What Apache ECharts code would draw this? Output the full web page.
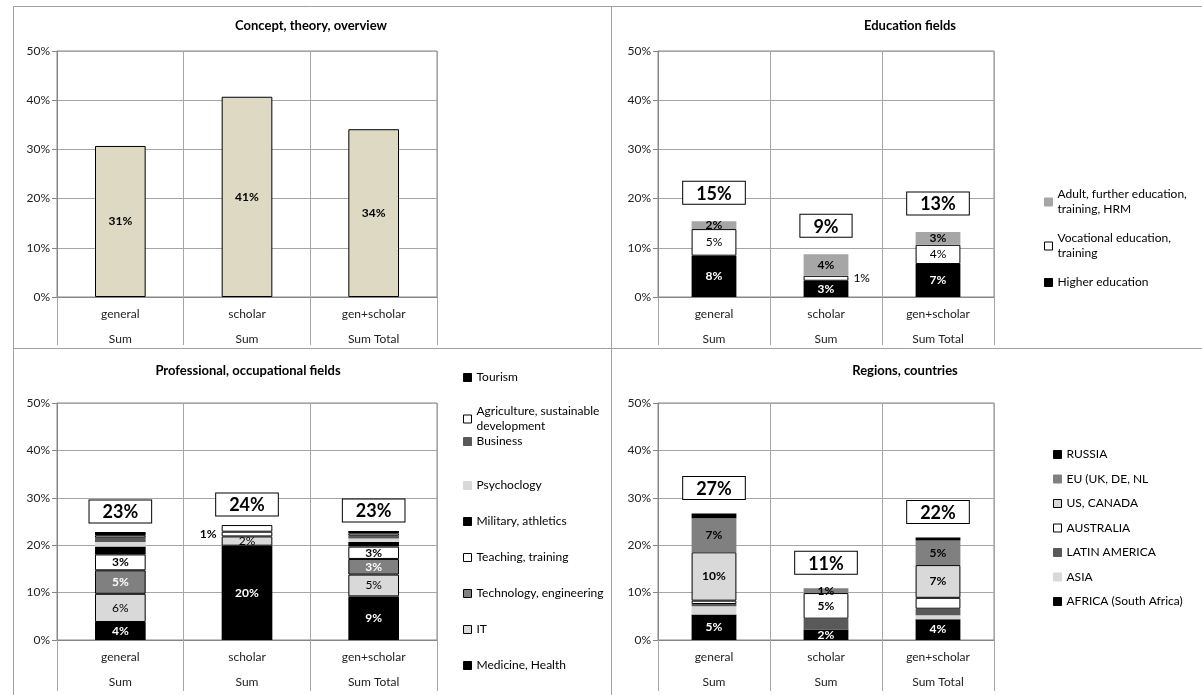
<!DOCTYPE html>
<html><head><meta charset="utf-8">
<script src="https://cdn.jsdelivr.net/npm/echarts@6/dist/echarts.min.js"></script>
<style>html,body{margin:0;padding:0;background:#fff}#c{width:1202px;height:695px}</style>
</head><body><div id="c"></div><script>
// ---------- data (values in percent) ----------
const categories = ['general', 'scholar', 'gen+scholar'];
const subLabels = ['Sum', 'Sum', 'Sum Total'];
const yTickMax = 50;
const yTickStep = 10;

const conceptValues = [30.7, 40.7, 34.1];

const eduHigher = [8.4, 3.3, 6.7];
const eduVocational = [5.4, 1.0, 3.9];
const eduAdult = [1.6, 4.4, 2.6];

const profMedicine = [3.8, 19.9, 9.2];
const profIT = [5.95, 1.95, 4.6];
const profTech = [4.95, 0, 3.3];
const profTeaching = [3.35, 1.0, 2.6];
const profMilitary = [1.65, 0, 1.0];
const profPsychology = [1.0, 0, 0.7];
const profBusiness = [0.9, 0, 0.6];
const profAgriculture = [0.5, 1.4, 0.5];
const profTourism = [0.7, 0, 0.5];

const regAfrica = [5.4, 2.2, 4.4];
const regAsia = [1.7, 0, 0.8];
const regLatin = [0.5, 2.3, 1.4];
const regAustralia = [0.7, 5.4, 2.3];
const regUS = [10.2, 0, 6.9];
const regEU = [7.2, 1.0, 5.2];
const regRussia = [1.0, 0, 0.6];

// ---------- styling helpers ----------
const FONT = 'Lato, "Open Sans", sans-serif';
const GRIDC = '#a6a6a6';
const pct = v => Math.round(v) + '%';

const wrap = {
  'Adult, further education, training, HRM': 'Adult, further education,\ntraining, HRM',
  'Vocational education, training': 'Vocational education,\ntraining',
  'Agriculture, sustainable development': 'Agriculture, sustainable\ndevelopment'
};

function stackSeries(gi, name, vals, color, o) {
  o = o || {};
  return {
    type: 'bar', name: name, xAxisIndex: gi, yAxisIndex: gi, stack: 's' + gi, barWidth: '40%',
    itemStyle: { color: color, borderColor: o.border ? '#000' : color, borderWidth: o.border ? 1 : 0 },
    emphasis: { disabled: true },
    data: vals.map((v, i) => {
      const item = { value: v > 0 ? v : '-' };
      if (o.labels && o.labels[i] && v > 0) {
        item.label = { show: true };
        if (o.labelPos && o.labelPos[i]) item.label.position = o.labelPos[i];
      }
      return item;
    }),
    label: { show: false, position: 'inside', formatter: p => pct(p.value), fontFamily: FONT, fontSize: 12,
      color: o.labelColor || '#000', fontWeight: o.bold ? 'bold' : 'normal' }
  };
}

function totalSeries(gi, arrays, dist) {
  const totals = categories.map((_, i) => arrays.reduce((s, a) => s + a[i], 0));
  return {
    type: 'scatter', xAxisIndex: gi, yAxisIndex: gi, data: totals, symbolSize: 1, silent: true, z: 10,
    itemStyle: { color: 'rgba(0,0,0,0)', opacity: 1 },
    emphasis: { disabled: true },
    label: { show: true, position: 'top', distance: dist, formatter: p => pct(p.value),
      fontFamily: FONT, fontSize: 18, fontWeight: 'bold', color: '#000', backgroundColor: '#fff',
      borderColor: '#000', borderWidth: 1, padding: [3, 13, 1, 13], opacity: 1 }
  };
}

const grids = [
  { left: 57, top: 51, width: 380, height: 246 },
  { left: 658, top: 51, width: 336, height: 246 },
  { left: 57, top: 403, width: 380, height: 241 },
  { left: 658, top: 403, width: 336, height: 241 }
].map(g => Object.assign(g, { show: true, borderColor: '#868686', borderWidth: 1 }));

const xAxes = grids.map((g, i) => ({
  type: 'category', gridIndex: i, data: categories,
  axisLine: { lineStyle: { color: '#868686' } },
  axisTick: { show: true, interval: 0, length: i < 2 ? 48 : 51, lineStyle: { color: GRIDC } },
  splitLine: { show: true, interval: 0, lineStyle: { color: GRIDC } },
  axisLabel: { interval: 0, margin: 5, fontFamily: FONT, fontSize: 12, color: '#222', lineHeight: 25,
    formatter: (v, idx) => v + '\n' + subLabels[idx] }
}));

const yAxes = grids.map((g, i) => ({
  type: 'value', gridIndex: i, min: 0, max: yTickMax, interval: yTickStep,
  axisLine: { show: true, lineStyle: { color: '#868686' } },
  axisTick: { show: true, length: 5, lineStyle: { color: '#868686' } },
  splitLine: { show: true, lineStyle: { color: GRIDC } },
  axisLabel: { margin: 7, fontFamily: FONT, fontSize: 12, color: '#222', formatter: '{value}%' }
}));

const series = [
  {
    type: 'bar', name: 'Concept', xAxisIndex: 0, yAxisIndex: 0, barWidth: '40%', data: conceptValues,
    itemStyle: { color: '#ddd9c3', borderColor: '#000', borderWidth: 1 }, emphasis: { disabled: true },
    label: { show: true, position: 'inside', formatter: p => pct(p.value), fontFamily: FONT, fontSize: 12, fontWeight: 'bold', color: '#000' }
  },
  stackSeries(1, 'Higher education', eduHigher, '#000', { labels: [1, 1, 1], labelColor: '#fff', bold: true }),
  stackSeries(1, 'Vocational education, training', eduVocational, '#fff', { border: true, labels: [1, 1, 1], labelPos: [null, 'right', null] }),
  stackSeries(1, 'Adult, further education, training, HRM', eduAdult, '#a6a6a6', { labels: [1, 1, 1], bold: true }),
  totalSeries(1, [eduHigher, eduVocational, eduAdult], 17),
  stackSeries(2, 'Medicine, Health', profMedicine, '#000', { labels: [1, 1, 1], labelColor: '#fff', bold: true }),
  stackSeries(2, 'IT', profIT, '#d9d9d9', { border: true, labels: [1, 1, 1] }),
  stackSeries(2, 'Technology, engineering', profTech, '#808080', { border: true, labels: [1, 1, 1], labelColor: '#fff', bold: true }),
  stackSeries(2, 'Teaching, training', profTeaching, '#fff', { border: true, labels: [1, 1, 1], bold: true, labelPos: [null, 'left', null] }),
  stackSeries(2, 'Military, athletics', profMilitary, '#000'),
  stackSeries(2, 'Psychoclogy', profPsychology, '#d9d9d9'),
  stackSeries(2, 'Business', profBusiness, '#595959'),
  stackSeries(2, 'Agriculture, sustainable development', profAgriculture, '#fff', { border: true }),
  stackSeries(2, 'Tourism', profTourism, '#000'),
  totalSeries(2, [profMedicine, profIT, profTech, profTeaching, profMilitary, profPsychology, profBusiness, profAgriculture, profTourism], 9),
  stackSeries(3, 'AFRICA (South Africa)', regAfrica, '#000', { labels: [1, 1, 1], labelColor: '#fff', bold: true }),
  stackSeries(3, 'ASIA', regAsia, '#d9d9d9'),
  stackSeries(3, 'LATIN AMERICA', regLatin, '#595959'),
  stackSeries(3, 'AUSTRALIA', regAustralia, '#fff', { border: true, labels: [0, 1, 0], bold: true }),
  stackSeries(3, 'US, CANADA', regUS, '#d9d9d9', { border: true, labels: [1, 1, 1], bold: true }),
  stackSeries(3, 'EU (UK, DE, NL', regEU, '#808080', { labels: [1, 1, 1], bold: true }),
  stackSeries(3, 'RUSSIA', regRussia, '#000'),
  totalSeries(3, [regAfrica, regAsia, regLatin, regAustralia, regUS, regEU, regRussia], 14)
];

function legend(names, left, top, gap) {
  return {
    data: names, orient: 'vertical', left: left, top: top, itemGap: gap, itemWidth: 8, itemHeight: 8,
    icon: 'rect', selectedMode: false, padding: 0,
    itemStyle: { borderWidth: 1 },
    formatter: n => wrap[n] || n,
    textStyle: { fontFamily: FONT, fontSize: 12, color: '#000', lineHeight: 15 }
  };
}

const legends = [
  legend(['Adult, further education, training, HRM', 'Vocational education, training', 'Higher education'], 1044, 187, 14),
  legend(['Tourism', 'Agriculture, sustainable development'], 463, 370, 19),
  legend(['Business'], 463, 434, 0),
  legend(['Psychoclogy', 'Military, athletics', 'Teaching, training', 'Technology, engineering', 'IT', 'Medicine, Health'], 463, 478, 21),
  legend(['RUSSIA', 'EU (UK, DE, NL', 'US, CANADA', 'AUSTRALIA', 'LATIN AMERICA', 'ASIA', 'AFRICA (South Africa)'], 1053, 447, 9.5)
];

function titleText(text, x, y) {
  return { type: 'text', x: x, y: y, silent: true,
    style: { text: text, fill: '#000', font: 'bold 13px ' + FONT, textAlign: 'center', textVerticalAlign: 'middle' } };
}
function line(x1, y1, x2, y2) {
  return { type: 'line', silent: true, shape: { x1: x1, y1: y1, x2: x2, y2: y2 }, style: { stroke: '#a0a0a0', lineWidth: 1 } };
}

const chart = echarts.init(document.getElementById('c'));
chart.setOption({
  animation: false,
  backgroundColor: '#fff',
  grid: grids, xAxis: xAxes, yAxis: yAxes, series: series, legend: legends,
  graphic: [
    line(13.5, 6.5, 1202, 6.5),
    line(13.5, 6.5, 13.5, 695),
    line(611.5, 6.5, 611.5, 695),
    line(13.5, 348.5, 1202, 348.5),
    titleText('Concept, theory, overview', 311, 26),
    titleText('Education fields', 910, 26),
    titleText('Professional, occupational fields', 248, 371),
    titleText('Regions, countries', 905, 371)
  ]
});
</script></body></html>
